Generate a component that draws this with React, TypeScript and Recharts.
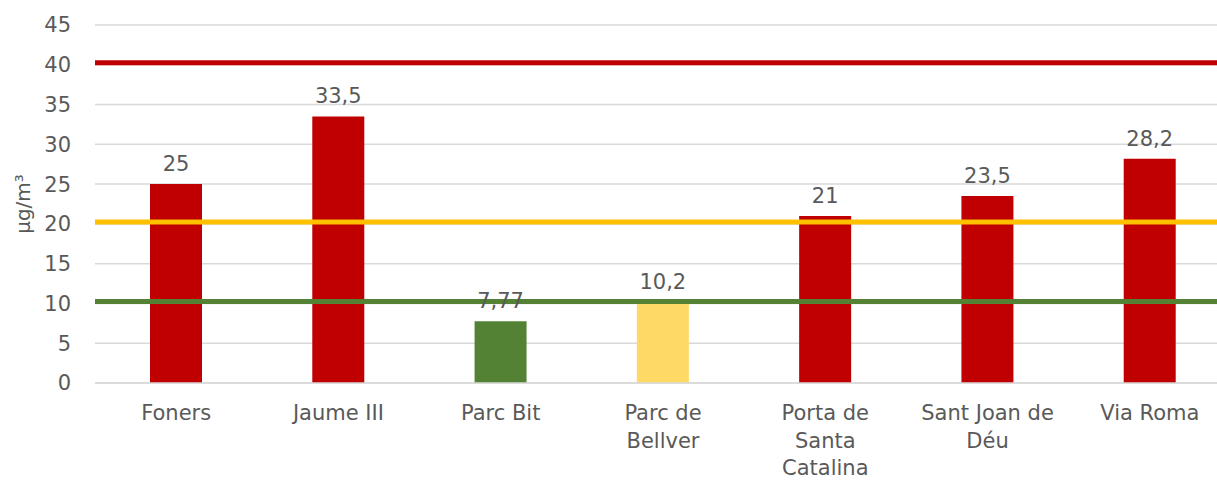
import { BarChart, Bar, XAxis, YAxis, CartesianGrid, ReferenceLine, LabelList, Cell, Label } from 'recharts'

const stations = ['Foners', 'Jaume III', 'Parc Bit', 'Parc de Bellver', 'Porta de Santa Catalina', 'Sant Joan de Déu', 'Via Roma']
const stationLines = [['Foners'], ['Jaume III'], ['Parc Bit'], ['Parc de', 'Bellver'], ['Porta de', 'Santa', 'Catalina'], ['Sant Joan de', 'Déu'], ['Via Roma']]
const values = [25, 33.5, 7.77, 10.2, 21, 23.5, 28.2]
const yTicks = [0, 5, 10, 15, 20, 25, 30, 35, 40, 45]
const limits = [
  { y: 40, color: '#C00000' },
  { y: 20, color: '#FFC000' },
  { y: 10, color: '#548235' },
]

const FONT = '"DejaVu Sans", sans-serif'
const TEXT = '#595959'

const data = stations.map((name, i) => ({ name, value: values[i] }))

const barColor = (v: number) => (v > 20 ? '#C00000' : v > 10 ? '#FFD966' : '#548235')

function StationTick({ x, y, index }: any) {
  const lines = stationLines[index] || []
  return (
    <text x={x} y={y} textAnchor='middle' fill={TEXT} fontSize={21} fontFamily={FONT}>
      {lines.map((l, i) => (
        <tspan key={i} x={x} dy={i === 0 ? 37 : 27.5}>{l}</tspan>
      ))}
    </text>
  )
}

function LimitLine(props: any) {
  const { x1, x2, y1, stroke } = props
  return <line x1={x1} x2={x2} y1={y1 - 2} y2={y1 - 2} stroke={stroke} strokeWidth={5} />
}

export default function App() {
  return (
    <div style={{ position: 'absolute', left: 0, top: 0, width: 1217, height: 481, overflow: 'hidden', background: '#fff' }}>
      <BarChart width={1240} height={481} data={data} margin={{ top: 25, right: 9, bottom: 0, left: 0 }} barSize={52}>
        <CartesianGrid vertical={false} stroke='#D9D9D9' strokeWidth={1.5} />
        <YAxis
          width={95}
          domain={[0, 45]}
          ticks={yTicks}
          axisLine={false}
          tickLine={false}
          tickSize={0}
          tickMargin={24}
          tick={{ fill: TEXT, fontSize: 21, fontFamily: FONT }}
        >
          <Label value='µg/m³' angle={-90} position='center' dx={-25} fill={TEXT} fontSize={20} fontFamily={FONT} />
        </YAxis>
        <XAxis
          dataKey='name'
          height={98}
          interval={0}
          axisLine={{ stroke: '#D9D9D9', strokeWidth: 1.5 }}
          tickLine={false}
          tickSize={0}
          tickMargin={0}
          tick={<StationTick />}
        />
        <Bar dataKey='value' isAnimationActive={false}>
          {data.map((d, i) => (
            <Cell key={i} fill={barColor(d.value)} />
          ))}
          <LabelList
            dataKey='value'
            position='top'
            offset={13}
            fill={TEXT}
            fontSize={21}
            fontFamily={FONT}
            formatter={(v: any) => String(v).replace('.', ',')}
          />
        </Bar>
        {limits.map((l) => (
          <ReferenceLine key={l.y} y={l.y} stroke={l.color} strokeWidth={5} shape={<LimitLine />} />
        ))}
      </BarChart>
    </div>
  )
}
